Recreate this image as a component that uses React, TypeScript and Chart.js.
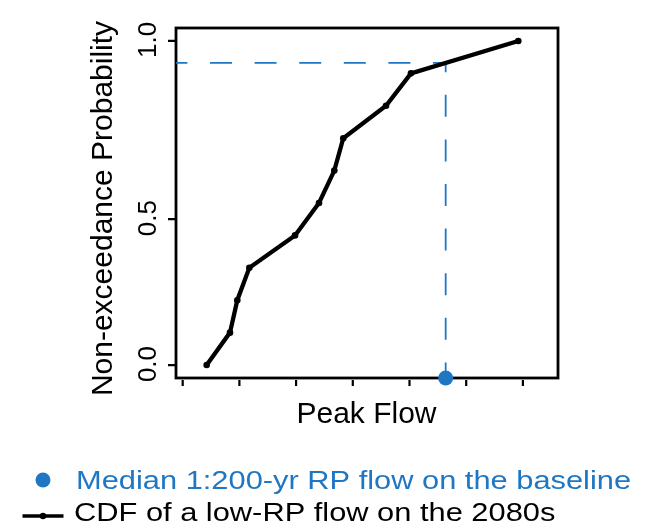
import React, { useEffect, useRef } from "react";
import { Chart, registerables } from "chart.js";

Chart.register(...registerables);

// Peak flow (in x-axis tick units; the axis shows unlabelled ticks only)
const cdfFlow = [0.423, 0.834, 0.963, 1.175, 1.981, 2.404, 2.674, 2.832, 3.586, 4.026, 5.919];
// Non-exceedance probability of each sorted flow
const cdfProb = [0, 0.1, 0.2, 0.3, 0.4, 0.5, 0.6, 0.7, 0.8, 0.9, 1.0];
// Median 1:200-yr RP flow on the baseline
const baselineFlow = [4.638];

const xTickValues = [0, 1, 2, 3, 4, 5, 6];
// tick positions as drawn in the reference figure, with their printed labels
const yTickValues = [0, 0.45, 1.0];
const yTickLabels = ["0.0", "0.5", "1.0"];

const xLabel = "Peak Flow";
const yLabel = "Non-exceedance Probability";
const legendBaseline = "Median 1:200-yr RP flow on the baseline";
const legendCdf = "CDF of a low-RP flow on the 2080s";

const BLUE = "#1f77c4";
const FONT = "'Liberation Sans', Arial, Helvetica, sans-serif";

const X_MIN = -0.118;
const X_MAX = 6.619;
const Y_MIN = -0.04;
const Y_MAX = 1.04;

function interpProb(x: number): number {
  for (let i = 0; i < cdfFlow.length - 1; i++) {
    if (x >= cdfFlow[i] && x <= cdfFlow[i + 1]) {
      const t = (x - cdfFlow[i]) / (cdfFlow[i + 1] - cdfFlow[i]);
      return cdfProb[i] + t * (cdfProb[i + 1] - cdfProb[i]);
    }
  }
  return x < cdfFlow[0] ? 0 : 1;
}

const framePlugin = {
  id: "rframe",
  beforeDatasetsDraw(chart: any) {
    const { ctx, chartArea: a, scales } = chart;
    const xs = scales.x;
    const ys = scales.y;
    ctx.save();
    // box
    ctx.strokeStyle = "#000";
    ctx.lineWidth = 2.8;
    ctx.strokeRect(a.left, a.top, a.right - a.left, a.bottom - a.top);
    // x ticks
    ctx.lineWidth = 2.2;
    ctx.beginPath();
    xTickValues.forEach((v) => {
      const px = xs.getPixelForValue(v);
      ctx.moveTo(px, a.bottom + 2);
      ctx.lineTo(px, a.bottom + 8);
    });
    // y ticks
    yTickValues.forEach((v) => {
      const py = ys.getPixelForValue(v);
      ctx.moveTo(a.left, py);
      ctx.lineTo(a.left - 8, py);
    });
    ctx.stroke();
    // y tick labels (rotated)
    ctx.fillStyle = "#000";
    ctx.font = `26px ${FONT}`;
    ctx.textAlign = "center";
    ctx.textBaseline = "alphabetic";
    yTickValues.forEach((v, i) => {
      const py = ys.getPixelForValue(v);
      ctx.save();
      ctx.translate(a.left - 20, py - 1);
      ctx.rotate(-Math.PI / 2);
      ctx.fillText(yTickLabels[i], 0, 0);
      ctx.restore();
    });
    // axis titles
    ctx.font = `30px ${FONT}`;
    ctx.textAlign = "center";
    ctx.fillText(xLabel, (a.left + a.right) / 2 - 0.5, 423);
    ctx.save();
    ctx.translate(111.5, 208.5);
    ctx.rotate(-Math.PI / 2);
    ctx.fillText(yLabel, 0, 0);
    ctx.restore();
    ctx.restore();
  },
  afterDraw(chart: any) {
    const { ctx } = chart;
    ctx.save();
    // legend entry 1: blue point
    ctx.fillStyle = BLUE;
    ctx.beginPath();
    ctx.arc(43, 480, 7.5, 0, Math.PI * 2);
    ctx.fill();
    ctx.font = `26.5px ${FONT}`;
    ctx.textAlign = "left";
    ctx.textBaseline = "alphabetic";
    ctx.save();
    ctx.translate(76, 488.5);
    ctx.scale(1.163, 1);
    ctx.fillText(legendBaseline, 0, 0);
    ctx.restore();
    // legend entry 2: line with point
    ctx.strokeStyle = "#000";
    ctx.lineWidth = 3.5;
    ctx.beginPath();
    ctx.moveTo(22.5, 516);
    ctx.lineTo(63.5, 516);
    ctx.stroke();
    ctx.fillStyle = "#000";
    ctx.beginPath();
    ctx.arc(43, 516, 3.2, 0, Math.PI * 2);
    ctx.fill();
    ctx.save();
    ctx.translate(74, 520.5);
    ctx.scale(1.163, 1);
    ctx.fillText(legendCdf, 0, 0);
    ctx.restore();
    ctx.restore();
  },
};

export default function App() {
  const ref = useRef<HTMLCanvasElement | null>(null);

  useEffect(() => {
    if (!ref.current) return;
    const pBase = interpProb(baselineFlow[0]);
    const chart = new Chart(ref.current, {
      type: "line",
      data: {
        datasets: [
          {
            label: legendBaseline,
            data: baselineFlow.map((x) => ({ x, y: Y_MIN })),
            showLine: false,
            pointRadius: 7.5,
            pointBackgroundColor: BLUE,
            pointBorderWidth: 0,
            borderColor: BLUE,
            clip: false,
            order: 0,
          },
          {
            label: legendCdf,
            data: cdfFlow.map((x, i) => ({ x, y: cdfProb[i] })),
            borderColor: "#000",
            borderWidth: 4.3,
            pointRadius: 3.3,
            pointBackgroundColor: "#000",
            pointBorderWidth: 0,
            tension: 0,
            order: 1,
          },
          {
            label: "guide",
            data: [
              { x: X_MIN, y: pBase },
              { x: baselineFlow[0], y: pBase },
              { x: baselineFlow[0], y: Y_MIN },
            ],
            borderColor: BLUE,
            borderWidth: 1.8,
            borderDash: [22, 22.6],
            borderDashOffset: 10.6,
            pointRadius: 0,
            tension: 0,
            order: 2,
          },
        ],
      },
      options: {
        animation: false,
        responsive: false,
        layout: { padding: { left: 176, right: 94, top: 28, bottom: 148 } },
        scales: {
          x: { type: "linear", min: X_MIN, max: X_MAX, display: false },
          y: { type: "linear", min: Y_MIN, max: Y_MAX, display: false },
        },
        plugins: {
          legend: { display: false },
          tooltip: { enabled: false },
        },
        events: [],
      },
      plugins: [framePlugin],
    });
    return () => chart.destroy();
  }, []);

  return (
    <div style={{ position: "absolute", left: 0, top: 0, width: 652, height: 526, background: "#fff" }}>
      <canvas ref={ref} width={652} height={526} style={{ display: "block" }} />
    </div>
  );
}
